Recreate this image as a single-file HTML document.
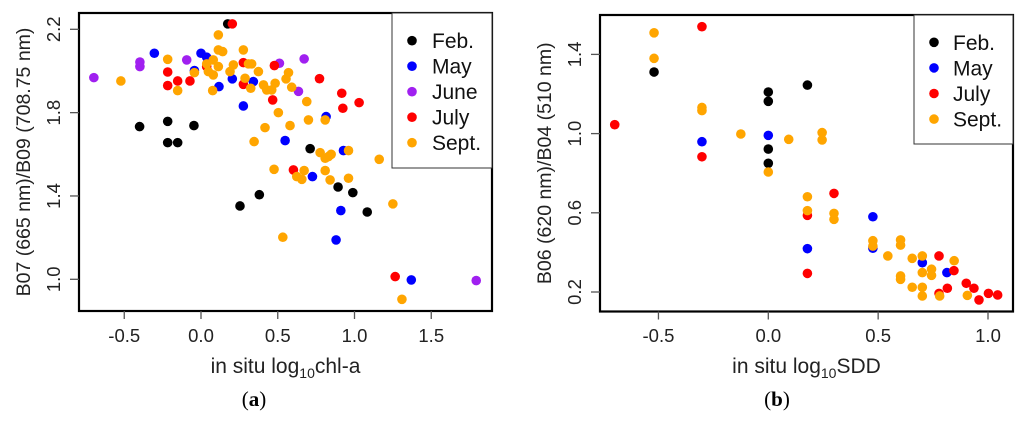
<!DOCTYPE html>
<html><head><meta charset="utf-8"><style>
body{margin:0;background:#fff;}
svg{display:block;font-family:"Liberation Sans",sans-serif;}
</style></head><body>
<svg id="chart" width="1024" height="423" viewBox="0 0 1024 423"></svg>
<script>
const months = ["Feb.","May","June","July","Sept."];
const colors = ["#000000","#0000ff","#a020f0","#ff0000","#ffa500"];
const xTicksA = [-0.5,0.0,0.5,1.0,1.5];
const yTicksA = [1.0,1.4,1.8,2.2];
const xTicksB = [-0.5,0.0,0.5,1.0];
const yTicksB = [0.2,0.6,1.0,1.4];
const aFebX=[-0.40,-0.217,-0.217,-0.152,-0.046,0.174,0.254,0.380,0.711,0.893,0.989,1.083];
const aFebY=[1.733,1.758,1.656,1.656,1.738,2.226,1.352,1.406,1.627,1.443,1.416,1.323];
const aMayX=[-0.304,0,0.037,-0.043,0.117,0.204,0.276,0.341,0.548,0.726,0.815,0.928,0.911,0.880,1.370];
const aMayY=[2.085,2.085,2.066,2.002,1.925,1.962,1.832,1.949,1.666,1.493,1.781,1.618,1.330,1.189,0.997];
const aJunX=[-0.698,-0.398,-0.398,-0.093,0.511,0.672,0.635,1.793];
const aJunY=[1.968,2.043,2.021,2.053,2.037,2.058,1.902,0.994];
const aJulX=[0.204,-0.217,-0.217,-0.152,-0.072,0.037,0.276,0.276,0.478,0.467,0.772,0.917,0.924,1.030,0.602,1.265];
const aJulY=[2.226,1.995,1.930,1.952,1.952,2.021,2.040,1.936,2.026,1.861,1.963,1.893,1.821,1.848,1.525,1.013];
const aSepX=[-0.522,-0.217,-0.152,-0.043,0.037,0.048,0.080,0.113,0.113,0.141,0.076,0.080,0.113,0.189,0.211,0.276,0.287,0.309,0.330,0.324,0.374,0.407,0.428,0.461,0.483,0.504,0.554,0.570,0.591,0.580,0.689,0.700,0.417,0.346,0.476,0.624,0.657,0.672,0.776,0.809,0.830,0.848,0.809,0.841,0.961,0.961,0.809,1.161,1.250,0.533,1.309];
const aSepY=[1.952,2.056,1.906,1.992,2.034,1.997,2.053,2.173,2.101,2.093,1.906,1.981,2.021,1.997,2.029,2.101,1.965,2.034,2.034,1.917,1.997,1.933,1.909,1.909,1.941,1.800,1.962,1.992,1.922,1.738,1.853,1.765,1.728,1.661,1.528,1.493,1.480,1.522,1.608,1.581,1.589,1.600,1.522,1.477,1.618,1.485,1.765,1.576,1.362,1.202,0.904];
const bFebX=[-0.520,0,0,0,0,0.178];
const bFebY=[1.311,1.210,1.163,0.922,0.850,1.245];
const bMayX=[-0.302,0,0.178,0.476,0.476,0.701,0.813];
const bMayY=[0.959,0.991,0.419,0.580,0.421,0.348,0.298];
const bJulX=[-0.699,-0.302,-0.302,0.178,0.178,0.299,0.777,0.845,0.815,0.777,0.901,0.936,0.959,1.002,1.044];
const bJulY=[1.045,1.540,0.883,0.587,0.294,0.698,0.382,0.308,0.219,0.193,0.244,0.219,0.160,0.193,0.185];
const bSepX=[-0.520,-0.520,-0.302,-0.302,-0.125,0.093,0.245,0.245,0,0.178,0.178,0.299,0.299,0.476,0.476,0.544,0.602,0.602,0.655,0.701,0.701,0.701,0.655,0.701,0.602,0.602,0.743,0.743,0.780,0.846,0.906];
const bSepY=[1.509,1.380,1.132,1.116,0.998,0.971,1.005,0.968,0.806,0.681,0.611,0.597,0.567,0.459,0.432,0.382,0.463,0.437,0.370,0.382,0.298,0.224,0.224,0.180,0.281,0.264,0.315,0.284,0.180,0.358,0.183];

const NS="http://www.w3.org/2000/svg";
const svg=document.getElementById('chart');
function el(tag,attrs,parent,text){const e=document.createElementNS(NS,tag);for(const k in attrs)e.setAttribute(k,attrs[k]);if(text!==undefined)e.textContent=text;(parent||svg).appendChild(e);return e;}

function panel(cfg){
  const g=el('g',{});
  
  
  const sx=v=>cfg.x0px+(v-cfg.x0)*cfg.xs;
  const sy=v=>cfg.y0px-(v-cfg.y0)*cfg.ys;
  cfg.series.forEach(s=>{
    const sg=el('g',{fill:colors[s.c]},g);
    
    
    s.x.forEach((xv,i)=>{
      const c=el('circle',{cx:sx(xv),cy:sy(s.y[i]),r:4.8},sg);
      
      
    });
  });
  const box=el('rect',{x:cfg.L,y:cfg.T,width:cfg.R-cfg.L,height:cfg.B-cfg.T,fill:'none',stroke:'#000','stroke-width':2.2},g);
  
  
  cfg.xt.forEach(t=>{
    const x=sx(t);
    const tk=el('line',{x1:x,x2:x,y1:cfg.B,y2:cfg.B+8,stroke:'#555','stroke-width':1.3},g);
    
    
    const tl=el('text',{x:x,y:342,'text-anchor':'middle','font-size':18.5,fill:'#222'},g,t.toFixed(1));
    
    
  });
  cfg.yt.forEach(t=>{
    const y=sy(t);
    const tk=el('line',{x1:cfg.L-9,x2:cfg.L,y1:y,y2:y,stroke:'#555','stroke-width':1.3},g);
    
    
    const tl=el('text',{x:0,y:0,'text-anchor':'middle','font-size':18.5,fill:'#222',transform:`translate(${cfg.L-19},${y}) rotate(-90)`},g,t.toFixed(1));
    
    
  });
  const yt=el('text',{x:0,y:0,'text-anchor':'middle','font-size':19.5,fill:'#222',transform:`translate(${cfg.ytx},${(cfg.T+cfg.B)/2}) rotate(-90)`},g,cfg.ytitle);
  
  
  const xt=el('text',{x:(cfg.L+cfg.R)/2,y:373,'text-anchor':'middle','font-size':21,fill:'#222'},g);
  
  
  el('tspan',{},xt,'in situ log');
  el('tspan',{'font-size':14,dy:5},xt,'10');
  el('tspan',{dy:-5},xt,cfg.xvar);
  const cap=el('text',{x:cfg.capx,y:406,'text-anchor':'middle','font-size':21,'font-family':'"Liberation Serif",serif',fill:'#000'},g);
  
  
  el('tspan',{},cap,'(');
  el('tspan',{'font-weight':'bold'},cap,cfg.cap);
  el('tspan',{},cap,')');
  const lg=el('g',{},g);
  
  
  const lb=el('rect',{x:cfg.lg.x,y:cfg.T,width:cfg.R-cfg.lg.x,height:cfg.lg.h,fill:'#fff',stroke:'#333','stroke-width':1},lg);
  
  
  cfg.series.forEach((s,i)=>{
    const y=cfg.lg.y0+i*cfg.lg.dy;
    const e=el('g',{},lg);
    
    
    el('circle',{cx:cfg.lg.mx,cy:y,r:4.8,fill:colors[s.c]},e);
    el('text',{x:cfg.lg.tx,y:y+7.5,'font-size':21,fill:'#111'},e,months[s.c]);
  });
}
panel({name:'panel-a',L:79,R:492,T:13,B:311,x0:0,x0px:201,xs:153.5,y0:1.0,y0px:279.3,ys:208.33,
  xt:xTicksA,yt:yTicksA,ytitle:'B07 (665 nm)/B09 (708.75 nm)',ytx:30,xvar:'chl-a',capx:254,cap:'a',
  lg:{x:392,h:155,y0:40.7,dy:25.5,mx:412,tx:432},
  series:[{c:0,x:aFebX,y:aFebY},{c:1,x:aMayX,y:aMayY},{c:2,x:aJunX,y:aJunY},{c:3,x:aJulX,y:aJulY},{c:4,x:aSepX,y:aSepY}]});
panel({name:'panel-b',L:600,R:1013,T:15,B:311.5,x0:0,x0px:768.3,xs:219.7,y0:0.2,y0px:292,ys:198,
  xt:xTicksB,yt:yTicksB,ytitle:'B06 (620 nm)/B04 (510 nm)',ytx:551,xvar:'SDD',capx:777,cap:'b',
  lg:{x:914,h:129,y0:42.3,dy:25.6,mx:934,tx:953},
  series:[{c:0,x:bFebX,y:bFebY},{c:1,x:bMayX,y:bMayY},{c:3,x:bJulX,y:bJulY},{c:4,x:bSepX,y:bSepY}]});
</script>
</body></html>
